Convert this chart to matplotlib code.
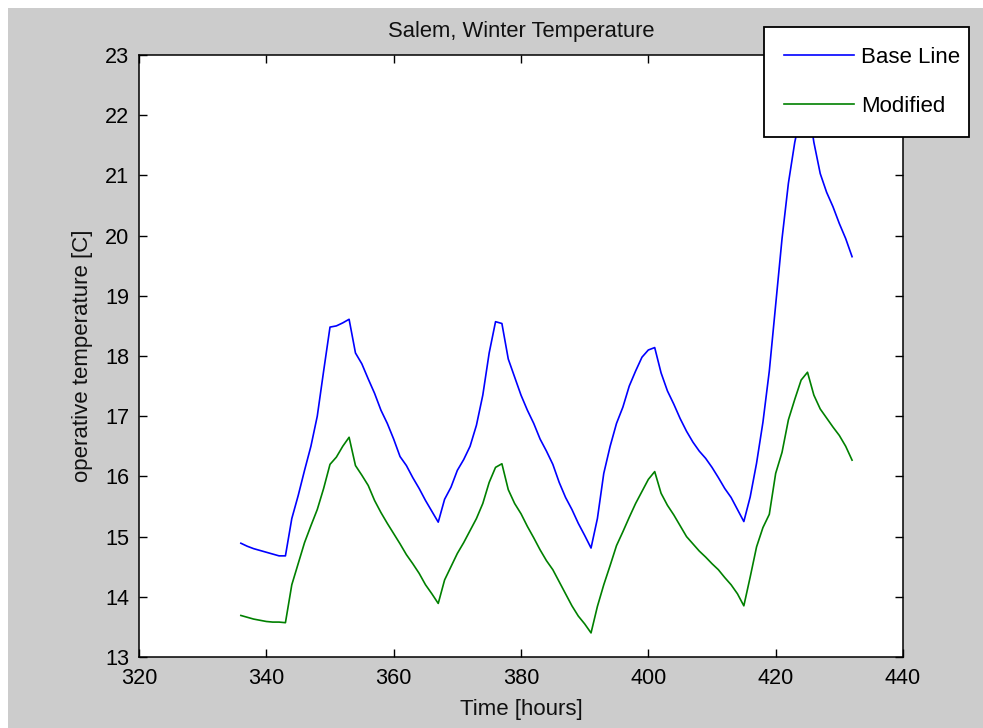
import matplotlib
matplotlib.use("Agg")
import matplotlib.pyplot as plt
from matplotlib.patches import Rectangle

hours = list(range(336, 433))

base_line = [
    14.89, 14.84, 14.80, 14.77, 14.74, 14.71, 14.68, 14.68,   # 336-343
    15.30, 15.68, 16.10, 16.50, 17.00, 17.75, 18.48, 18.50,   # 344-351
    18.55, 18.61, 18.05, 17.87, 17.62, 17.38, 17.10, 16.88,   # 352-359
    16.62, 16.33, 16.18, 15.98, 15.80, 15.60, 15.42, 15.24,   # 360-367
    15.62, 15.82, 16.10, 16.28, 16.50, 16.85, 17.35, 18.05,   # 368-375
    18.57, 18.54, 17.95, 17.65, 17.35, 17.10, 16.88, 16.62,   # 376-383
    16.42, 16.20, 15.90, 15.65, 15.45, 15.22, 15.02, 14.81,   # 384-391
    15.30, 16.05, 16.50, 16.88, 17.15, 17.50, 17.75, 17.98,   # 392-399
    18.10, 18.14, 17.72, 17.42, 17.20, 16.96, 16.75, 16.57,   # 400-407
    16.42, 16.30, 16.15, 15.98, 15.80, 15.65, 15.45, 15.25,   # 408-415
    15.66, 16.22, 16.90, 17.75, 18.85, 19.95, 20.87, 21.55,   # 416-423
    22.05, 22.25, 21.55, 21.03, 20.72, 20.48, 20.20, 19.95,   # 424-431
    19.65,                                                    # 432
]

modified = [
    13.69, 13.66, 13.63, 13.61, 13.59, 13.58, 13.58, 13.57,   # 336-343
    14.20, 14.55, 14.90, 15.18, 15.45, 15.80, 16.20, 16.32,   # 344-351
    16.50, 16.65, 16.18, 16.02, 15.85, 15.60, 15.40, 15.22,   # 352-359
    15.05, 14.88, 14.70, 14.55, 14.39, 14.20, 14.05, 13.89,   # 360-367
    14.28, 14.50, 14.72, 14.90, 15.10, 15.30, 15.55, 15.90,   # 368-375
    16.15, 16.21, 15.78, 15.55, 15.38, 15.17, 14.98, 14.78,   # 376-383
    14.60, 14.45, 14.25, 14.05, 13.85, 13.68, 13.55, 13.40,   # 384-391
    13.84, 14.20, 14.52, 14.85, 15.08, 15.32, 15.55, 15.75,   # 392-399
    15.95, 16.08, 15.72, 15.52, 15.36, 15.18, 15.00, 14.88,   # 400-407
    14.76, 14.66, 14.55, 14.45, 14.32, 14.20, 14.05, 13.85,   # 408-415
    14.33, 14.83, 15.15, 15.37, 16.05, 16.40, 16.94, 17.28,   # 416-423
    17.60, 17.73, 17.35, 17.12, 16.97, 16.82, 16.68, 16.50,   # 424-431
    16.27,                                                    # 432
]

x_ticks = [320, 340, 360, 380, 400, 420, 440]
y_ticks = list(range(13, 24))

plt.rcParams['font.family'] = ['Liberation Sans', 'DejaVu Sans']

W, H = 983, 728
fig = plt.figure(figsize=(W / 100, H / 100), dpi=100, facecolor='white')
fig.patches.append(Rectangle((8 / W, 0), 1 - 8 / W, (H - 8) / H,
                             transform=fig.transFigure, facecolor='#cccccc',
                             edgecolor='none', zorder=-10))

ax = fig.add_axes([139 / W, (H - 657) / H, (903 - 139) / W, (657 - 55) / H])
ax.set_facecolor('white')
ax.plot(hours, base_line, color=(0, 0, 1), lw=1.2, label='Base Line')
ax.plot(hours, modified, color=(0, 0.5, 0), lw=1.2, label='Modified')

ax.set_xlim(320, 440)
ax.set_ylim(13, 23)
ax.set_xticks(x_ticks)
ax.set_yticks(y_ticks)
ax.tick_params(direction='in', length=5.8, width=1.0, top=True, right=True,
               labelsize=15.6, colors='black')
ax.tick_params(axis='x', pad=8)
ax.tick_params(axis='y', pad=7)
for s in ax.spines.values():
    s.set_linewidth(1.1)
    s.set_color('black')

ax.set_title('Salem, Winter Temperature', fontsize=15.8, pad=13, color='#111111')
ax.set_xlabel('Time [hours]', fontsize=16, labelpad=7, color='#111111')
ax.set_ylabel('operative temperature [C]', fontsize=16, labelpad=8.5, color='#111111')

leg = ax.legend(loc='upper left',
                bbox_to_anchor=(764 / W, (H - 134) / H, (969 - 764) / W, (134 - 27) / H),
                bbox_transform=fig.transFigure, mode='expand',
                fontsize=16, frameon=True, fancybox=False, shadow=False,
                handlelength=3.15, handletextpad=0.35, labelspacing=1.28,
                borderpad=0.88, borderaxespad=0)
frame = leg.get_frame()
frame.set_edgecolor('black')
frame.set_linewidth(1.3)
frame.set_facecolor('white')
frame.set_alpha(1)

fig.savefig('out.png', dpi=100, facecolor=fig.get_facecolor())
